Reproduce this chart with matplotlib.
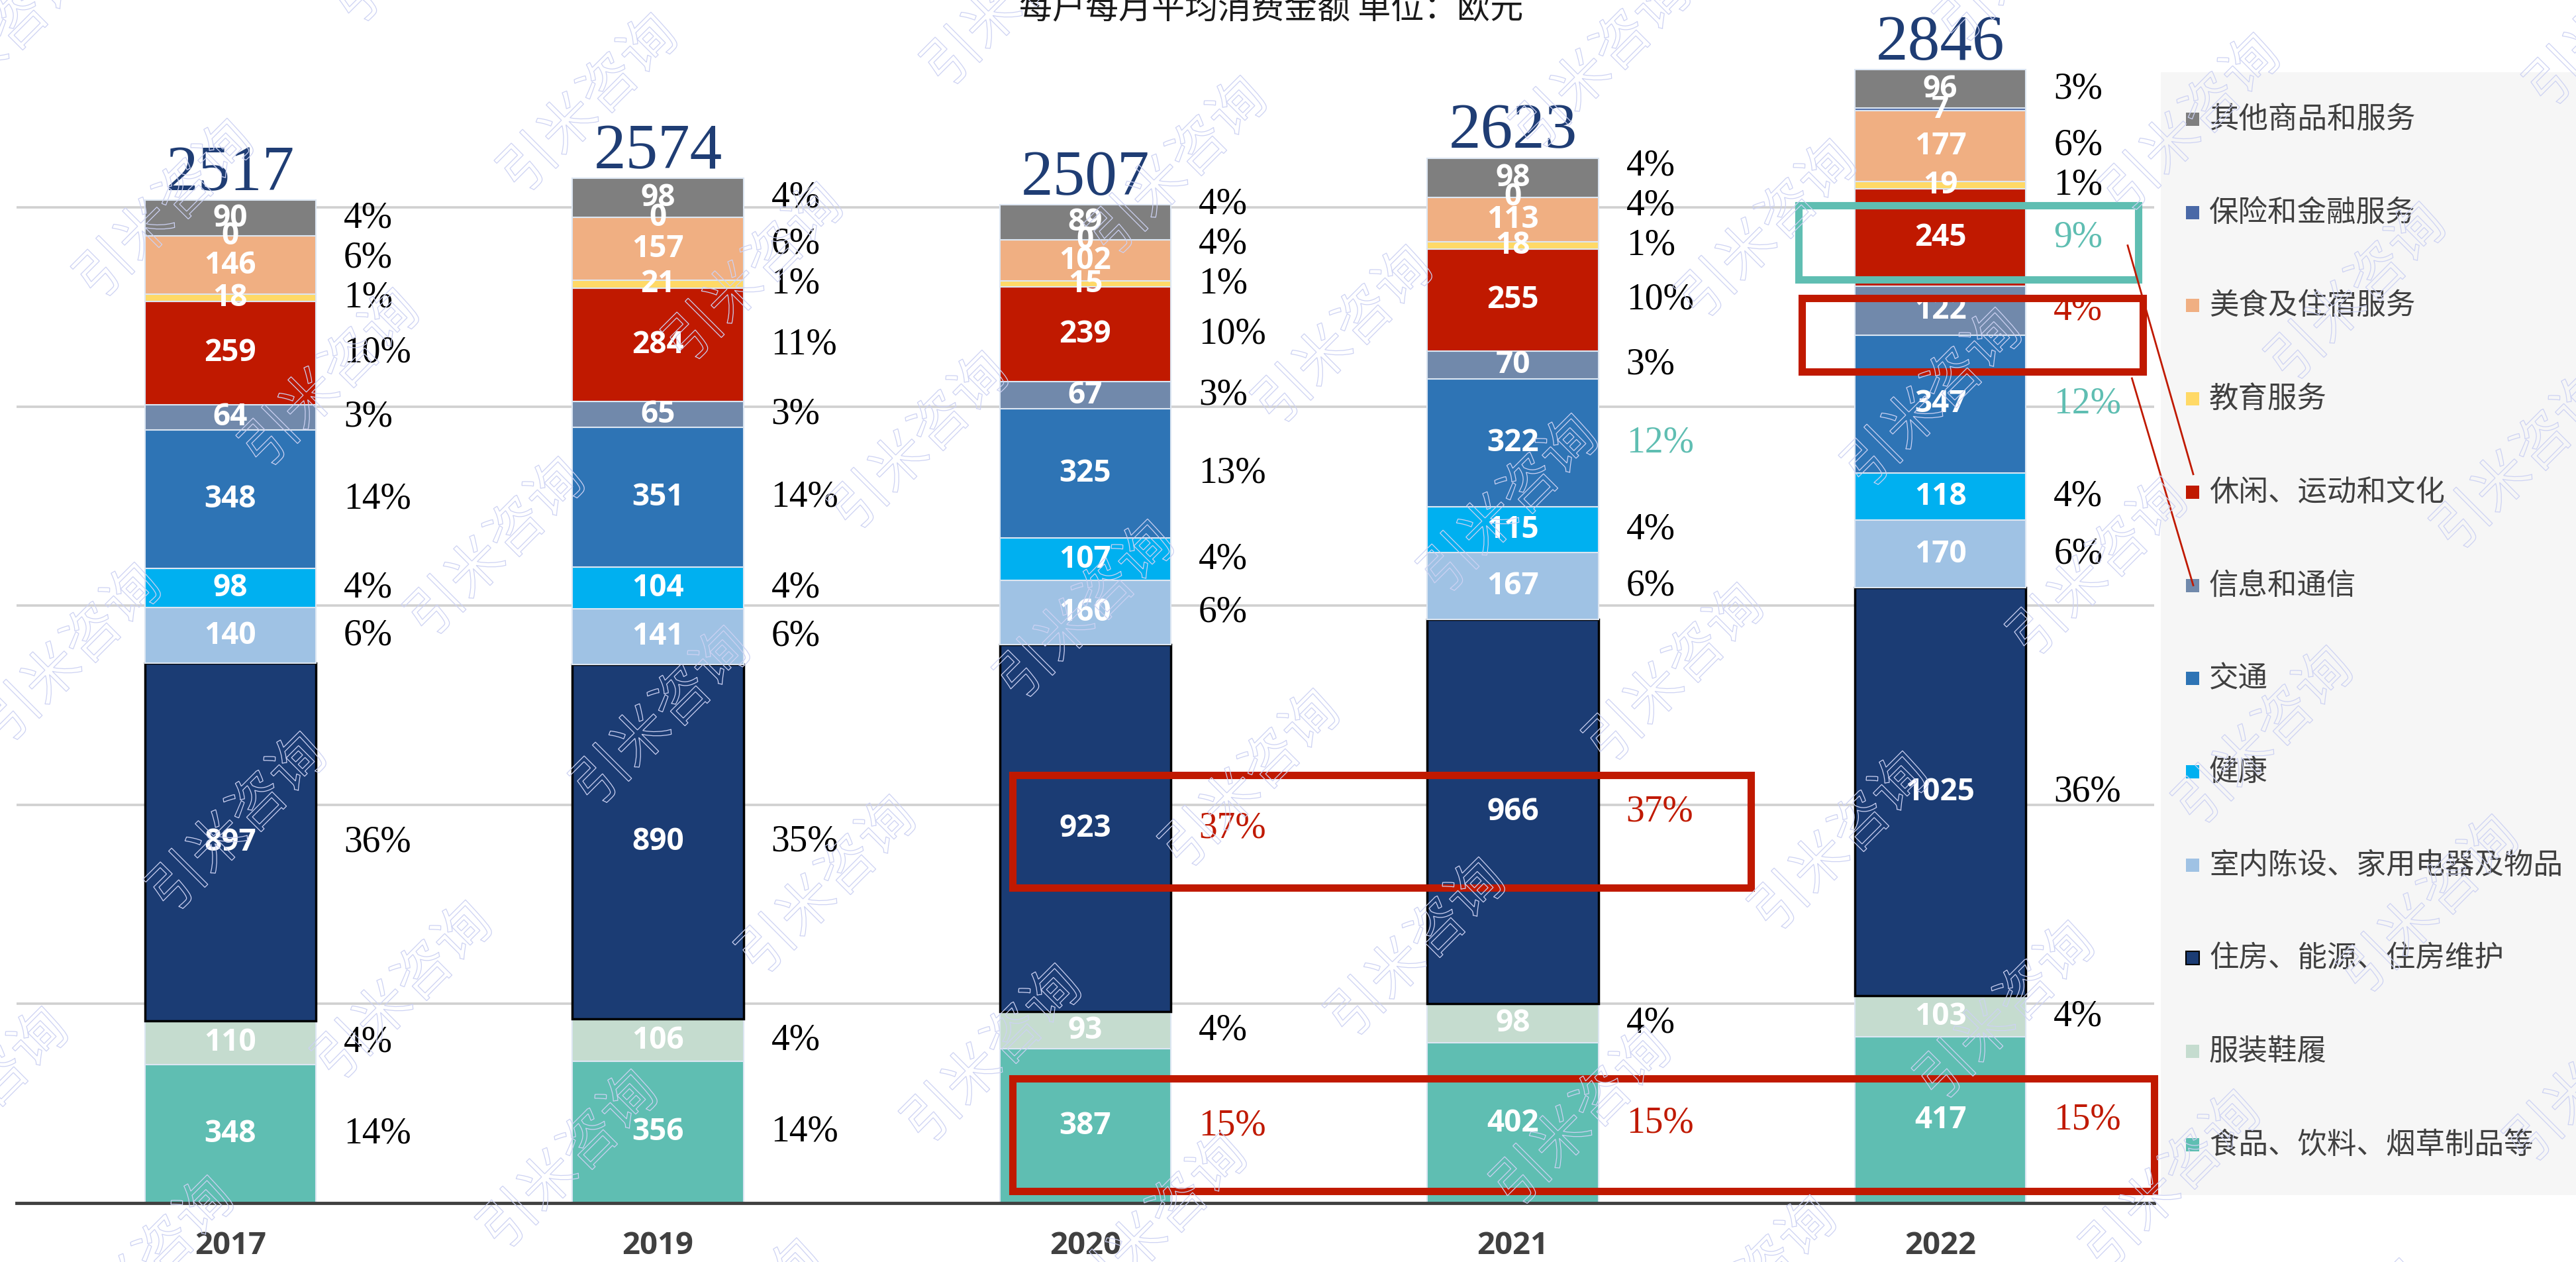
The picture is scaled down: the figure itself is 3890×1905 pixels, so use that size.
import numpy as np
import matplotlib.pyplot as plt
from matplotlib.patches import Rectangle, PathPatch
from matplotlib.textpath import TextPath
from matplotlib.font_manager import FontProperties
from matplotlib.transforms import Affine2D
from matplotlib.lines import Line2D

# 数据（从下到上）
years = ['2017', '2019', '2020', '2021', '2022']
totals = [2517, 2574, 2507, 2623, 2846]

categories = ['食品、饮料、烟草制品等', '服装鞋履', '住房、能源、住房维护',
              '室内陈设、家用电器及物品', '健康', '交通', '信息和通信',
              '休闲、运动和文化', '教育服务', '美食及住宿服务',
              '保险和金融服务', '其他商品和服务']
food = [348, 356, 387, 402, 417]
clothing = [110, 106, 93, 98, 103]
housing = [897, 890, 923, 966, 1025]
furnishing = [140, 141, 160, 167, 170]
health = [98, 104, 107, 115, 118]
transport = [348, 351, 325, 322, 347]
info = [64, 65, 67, 70, 122]
leisure = [259, 284, 239, 255, 245]
education = [18, 21, 15, 18, 19]
hospitality = [146, 157, 102, 113, 177]
insurance = [0, 0, 0, 0, 7]
other = [90, 98, 89, 98, 96]

# 图中标注的占比（%）
food_pct = [14, 14, 15, 15, 15]
clothing_pct = [4, 4, 4, 4, 4]
housing_pct = [36, 35, 37, 37, 36]
furnishing_pct = [6, 6, 6, 6, 6]
health_pct = [4, 4, 4, 4, 4]
transport_pct = [14, 14, 13, 12, 12]
info_pct = [3, 3, 3, 3, 4]
leisure_pct = [10, 11, 10, 10, 9]
education_pct = [1, 1, 1, 1, 1]
hospitality_pct = [6, 6, 4, 4, 6]
insurance_pct = [None] * 5
other_pct = [4, 4, 4, 4, 3]

colors = ['#5fbeb2', '#c5dccf', '#1b3c74', '#9fc2e4', '#00b0f0', '#2e74b5',
          '#7189ab', '#c01900', '#ffd966', '#f0af82', '#4a69a7', '#7f7f7f']
RED = '#c01900'
TEAL = '#5fbeb2'

# 百分比标签的高亮 (年份序号, 类别序号)
red_pct = [(2, 0), (3, 0), (4, 0), (2, 2), (3, 2), (4, 6)]
teal_pct = [(3, 5), (4, 5), (4, 7)]

W, H = 3891, 1905
fig = plt.figure(figsize=(W / 100, H / 100), dpi=100)
ax = fig.add_axes([25 / W, 1 - 1816 / H, (3253 - 25) / W, 1816 / H])

values = np.array([food, clothing, housing, furnishing, health, transport, info,
                   leisure, education, hospitality, insurance, other], dtype=float)
pcts = [food_pct, clothing_pct, housing_pct, furnishing_pct, health_pct, transport_pct,
        info_pct, leisure_pct, education_pct, hospitality_pct, insurance_pct, other_pct]
bottoms = np.vstack([np.zeros(len(years)), np.cumsum(values, axis=0)[:-1]])
centers = bottoms + values / 2
x = np.arange(len(years))

for k in range(len(categories)):
    if k == 2:
        ec, lw = 'black', 2.5
    else:
        ec, lw = '#dce6f2', 1.5
    ax.bar(x, values[k], bottom=bottoms[k], width=0.4, color=colors[k],
           edgecolor=ec, linewidth=lw, zorder=2)
    for i in range(len(years)):
        ax.text(x[i], centers[k, i], f'{int(values[k, i])}', ha='center', va='center',
                color='white', fontsize=33, fontweight='bold', family='Open Sans', zorder=4)

# 百分比标签
pct_y = np.full_like(values, np.nan)
for i in range(len(years)):
    prev = -1e9
    for k in range(len(categories)):
        pct = pcts[k][i]
        if pct is None:
            continue
        y = max(centers[k, i], prev + 100)
        pct_y[k, i] = y
        prev = y
        c = 'black'
        if (i, k) in red_pct:
            c = RED
        elif (i, k) in teal_pct:
            c = TEAL
        ax.text(x[i] + 0.265, y, f'{pct}%', ha='left', va='center', color=c,
                fontsize=40, family='Liberation Serif', zorder=4)

# 合计
stack_top = values.sum(axis=0)
for i in range(len(years)):
    ax.annotate(f'{totals[i]}', (x[i], stack_top[i]), xytext=(0, 11),
                textcoords='offset points', ha='center', va='baseline',
                fontsize=70, family='Liberation Serif', color='#1f3d74', zorder=4)

ax.set_xlim(-0.5, 4.5)
ax.set_ylim(0, 3021)
ax.set_yticks(range(500, 3000, 500))
ax.yaxis.grid(True, color='#d0d0d0', linewidth=2.6)
ax.set_axisbelow(True)
ax.tick_params(left=False, labelleft=False, bottom=False, pad=26)
ax.set_xticks(x, years)
for lab in ax.get_xticklabels():
    lab.set_fontsize(34)
    lab.set_fontweight('bold')
    lab.set_family('Open Sans')
    lab.set_color('#404040')
for s in ax.spines.values():
    s.set_visible(False)
ax.axhline(0, color='#404040', linewidth=3.5, zorder=3, clip_on=False)

# 标注框
boxes = [  # (类别, 起始年, 结束年, 左伸, 右伸, 半高, 偏移, 颜色)
    (2, 2, 3, 0.17, 0.557, 141, -8, RED),
    (0, 2, 4, 0.17, 0.50, 141, -22, RED),
    (7, 4, 4, 0.332, 0.463, 93, -12, TEAL),
    (6, 4, 4, 0.324, 0.473, 92, -61, RED),
]
box_geom = []
for k, i0, i1, lo, ro, hh, dy, c in boxes:
    cy = pct_y[k, i0] + dy
    x0, x1 = i0 - lo, i1 + ro
    ax.add_patch(Rectangle((x0, cy - hh), x1 - x0, 2 * hh, fill=False, edgecolor=c,
                           linewidth=8, zorder=5, clip_on=False))
    box_geom.append((x0, x1, cy, hh))

# 图例
fig.add_artist(Rectangle((3263 / W, 1 - 1804 / H), 1 - 3263 / W, (1804 - 109) / H,
                         transform=fig.transFigure, facecolor='#f6f6f6',
                         edgecolor='none', zorder=-1))
leg_y = {}
for n, k in enumerate(range(len(categories) - 1, -1, -1)):
    yp = 180 + n * 140.7
    leg_y[k] = yp
    ec = 'black' if k == 2 else 'none'
    fig.add_artist(Rectangle((3301 / W, 1 - (yp + 10) / H), 20 / W, 20 / H,
                             transform=fig.transFigure, facecolor=colors[k],
                             edgecolor=ec, linewidth=1.5, zorder=2))
    fig.text(3336 / W, 1 - yp / H, categories[k], ha='left', va='center', fontsize=32,
             family='Noto Sans CJK SC', color='#404040')

# 连线：从框到图例
to_fig = ax.transData + fig.transFigure.inverted()
links = [(2, 7, -8, -27), (3, 6, -109, 0)]
for b, k, sy, ey in links:
    x0, x1, cy, hh = box_geom[b]
    sx, syf = to_fig.transform((x1 - 0.025, cy + sy))
    ex, eyf = 3312 / W, 1 - (leg_y[k] + ey) / H
    fig.add_artist(Line2D([sx, ex], [syf, eyf], transform=fig.transFigure,
                          color=RED, linewidth=2, zorder=6))

# 标题
fig.add_artist(Rectangle((1534 / W, 1 - 44 / H), (2307 - 1534) / W, 44 / H,
                         transform=fig.transFigure, facecolor='#f4f6f6',
                         edgecolor='none', zorder=-1))
fig.text(1920 / W, 1 - 40 / H, '每户每月平均消费金额 单位：欧元', ha='center', va='bottom',
         fontsize=36, family='Noto Sans CJK SC', color='#1a1a1a')

# 水印
fp = FontProperties(family='Noto Sans CJK SC')
tp = TextPath((0, 0), '引米咨询', size=85, prop=fp)
bb = tp.get_extents()
for i in range(-8, 14):
    for j in range(-4, 8):
        px = 106 + 250 * i + 640 * j
        py = 983 + 255 * i - 160 * j
        if -250 < px < W + 250 and -250 < py < H + 250:
            tr = (Affine2D().translate(-bb.x0 - bb.width / 2, -bb.y0 - bb.height / 2)
                  .rotate_deg(45).translate(px, H - py))
            fig.add_artist(PathPatch(tp, transform=tr, facecolor='none',
                                     edgecolor='#cdd2f3', linewidth=0.9, zorder=20))

fig.savefig('out.png', dpi=100)
